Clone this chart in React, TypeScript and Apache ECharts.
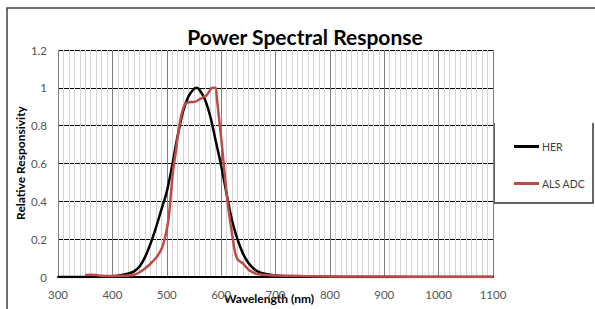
import React, { useEffect, useRef } from "react";
import * as echarts from "echarts";

const herWavelength = [300, 350, 360, 370, 380, 390, 400, 410, 420, 430, 440, 450, 460, 470, 480, 490, 500, 510, 520, 530, 540, 550, 555, 560, 570, 580, 590, 600, 610, 620, 630, 640, 650, 660, 670, 680, 690, 700, 720, 750, 800, 850, 1100];
const herValues = [0, 0, 0.0005, 0.001, 0.002, 0.003, 0.004, 0.007, 0.012, 0.019, 0.03, 0.055, 0.105, 0.175, 0.26, 0.355, 0.45, 0.59, 0.745, 0.875, 0.955, 0.994, 1.0, 0.99, 0.94, 0.85, 0.72, 0.59, 0.44, 0.3, 0.2, 0.125, 0.075, 0.044, 0.026, 0.017, 0.012, 0.008, 0.004, 0.002, 0.001, 0, 0];

const alsWavelength = [350, 360, 370, 380, 390, 400, 410, 420, 430, 440, 450, 460, 470, 480, 487, 492, 497, 503, 508, 512, 517, 521, 525, 529, 533, 537, 543, 549, 555, 561, 567, 573, 578, 582, 586, 590, 592, 595, 598, 601, 607, 613, 619, 625, 629, 633, 640, 645, 650, 656, 662, 670, 684, 700, 750, 800, 900, 1000, 1100];
const alsValues = [0.01, 0.012, 0.01, 0.007, 0.005, 0.005, 0.006, 0.007, 0.008, 0.012, 0.025, 0.045, 0.07, 0.1, 0.13, 0.16, 0.21, 0.3, 0.45, 0.57, 0.67, 0.76, 0.83, 0.88, 0.91, 0.92, 0.925, 0.925, 0.93, 0.94, 0.95, 0.96, 0.98, 0.998, 1.0, 1.0, 0.95, 0.87, 0.79, 0.71, 0.53, 0.37, 0.25, 0.14, 0.1, 0.085, 0.072, 0.055, 0.04, 0.028, 0.02, 0.014, 0.01, 0.008, 0.005, 0.003, 0.002, 0.001, 0.001];

const seriesNames = ["HER", "ALS ADC"];
const titleText = "Power Spectral Response";
const xAxisTitle = "Wavelength (nm)";
const yAxisTitle = "Relative Responsivity";

const FONT = "Lato, 'Open Sans', sans-serif";

export default function App() {
  const ref = useRef<HTMLDivElement>(null);
  useEffect(() => {
    if (!ref.current) return;
    const chart = echarts.init(ref.current, null, { renderer: "svg" });
    const her = herWavelength.map((w, i) => [w, herValues[i]]);
    const als = alsWavelength.map((w, i) => [w, alsValues[i]]);
    chart.setOption({
      animation: false,
      backgroundColor: "#ffffff",
      textStyle: { fontFamily: FONT },
      title: {
        text: titleText,
        left: 300,
        top: 21,
        textAlign: "center",
        textStyle: { fontFamily: FONT, fontWeight: "bold", fontSize: 21, color: "#000" },
      },
      grid: { left: 58, top: 50, right: 102, bottom: 32, containLabel: false },
      xAxis: {
        type: "value",
        min: 300,
        max: 1100,
        interval: 100,
        axisLine: { show: true, lineStyle: { color: "#000", width: 2 } },
        axisTick: { show: false },
        minorTick: { show: false, splitNumber: 10 },
        minorSplitLine: { show: true, lineStyle: { color: "#d4d4d4", width: 1 } },
        splitLine: { show: true, lineStyle: { color: "#7f7f7f", width: 1 } },
        axisLabel: {
          color: "#555",
          fontSize: 11.5,
          fontFamily: FONT,
          margin: 11,
          formatter: (v: number) => String(v),
        },
      },
      yAxis: {
        type: "value",
        min: 0,
        max: 1.2,
        interval: 0.2,
        axisLine: { show: false },
        axisTick: { show: false },
        splitLine: { show: true, lineStyle: { color: "#000", width: 1 } },
        axisLabel: {
          color: "#555",
          fontSize: 11.5,
          fontFamily: FONT,
          margin: 11,
          formatter: (v: number) => String(Math.round(v * 10) / 10),
        },
      },
      legend: {
        data: seriesNames,
        orient: "vertical",
        left: 509,
        top: 136,
        itemGap: 26,
        itemWidth: 25,
        itemHeight: 3,
        icon: "rect",
        textStyle: { color: "#404040", fontSize: 10.5, fontFamily: FONT, padding: [0, 0, 0, -2] },
      },
      graphic: [
        {
          type: "rect",
          shape: { x: 7, y: 8, width: 620, height: 340 },
          style: { fill: "none", stroke: "#404040", lineWidth: 1.5 },
          silent: true,
        },
        {
          type: "polyline",
          shape: { points: [[494, 123], [494, 203], [593, 203], [593, 123]] },
          style: { fill: "none", stroke: "#333", lineWidth: 1.5 },
          silent: true,
        },
        {
          type: "text",
          left: 224,
          top: 292,
          style: {
            text: xAxisTitle,
            fontFamily: FONT,
            fontWeight: "bold",
            fontSize: 12,
            fill: "#000",
          },
        },
        {
          type: "text",
          x: 20,
          y: 163,
          rotation: Math.PI / 2,
          style: {
            text: yAxisTitle,
            fontFamily: FONT,
            fontWeight: "bold",
            fontSize: 12,
            fill: "#000",
            align: "center",
            verticalAlign: "middle",
          },
        },
      ],
      series: [
        {
          name: seriesNames[0],
          type: "line",
          data: her,
          smooth: 0.3,
          showSymbol: false,
          lineStyle: { color: "#000", width: 2.5 },
          itemStyle: { color: "#000" },
          z: 2,
        },
        {
          name: seriesNames[1],
          type: "line",
          data: als,
          smooth: 0.3,
          showSymbol: false,
          lineStyle: { color: "#be4b48", width: 2.5 },
          itemStyle: { color: "#be4b48" },
          z: 3,
        },
      ],
    });
    return () => chart.dispose();
  }, []);
  return <div ref={ref} style={{ width: 595, height: 309, position: "absolute", left: 0, top: 0 }} />;
}
